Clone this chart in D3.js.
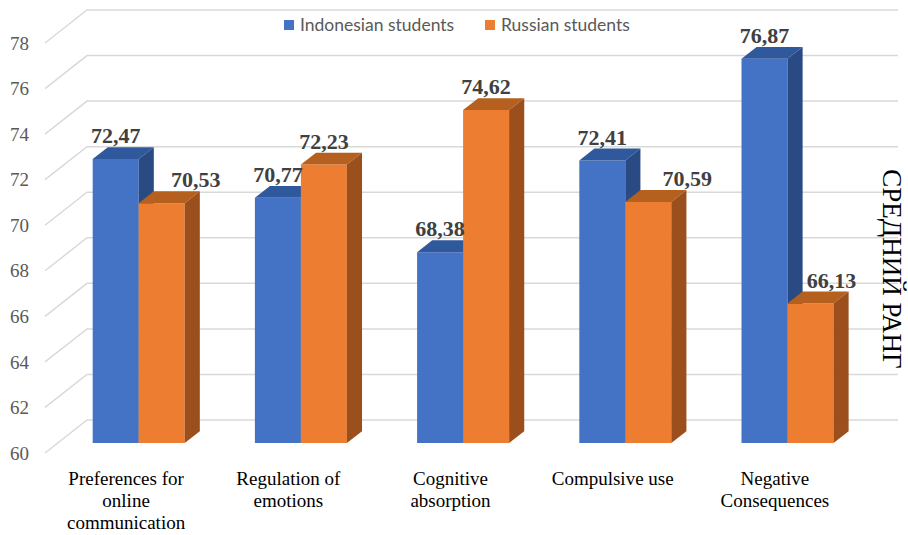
<!DOCTYPE html>
<html>
<head>
<meta charset="utf-8">
<script src="https://cdn.jsdelivr.net/npm/d3@7/dist/d3.min.js"></script>
<style>
  body { margin: 0; background: #fff; }
  svg { display: block; }
</style>
</head>
<body>
<div id="viz"></div>
<script>
// data
var categories = [
  ["Preferences for", "online", "communication"],
  ["Regulation of", "emotions"],
  ["Cognitive", "absorption"],
  ["Compulsive use"],
  ["Negative", "Consequences"]
];
var seriesNames = ["Indonesian students", "Russian students"];
var indonesian = [72.47, 70.77, 68.38, 72.41, 76.87];
var russian = [70.53, 72.23, 74.62, 70.59, 66.13];
var yTicks = [60, 62, 64, 66, 68, 70, 72, 74, 76, 78];
var axisTitle = "СРЕДНИЙ РАНГ";

var width = 908, height = 535;

var colors = [
  {front: "#4472C4", top: "#30589C", side: "#2A4A84"},
  {front: "#ED7D31", top: "#B5601F", side: "#9B4F1C"}
];

// 3d box of the plot: back wall is shifted by depthX / depthY
var depthX = 42, depthY = 33;
var barZ = 0.3, barDepth = 0.36; // bar position in the depth (0 = front, 1 = back)

var svg = d3.select("#viz").append("svg")
    .attr("width", width)
    .attr("height", height);

var catKeys = categories.map(function(d, i) { return i; });

var x = d3.scaleBand()
    .domain(catKeys)
    .range([45, 856]);

var xSub = d3.scaleBand()
    .domain([0, 1])
    .range([0, x.bandwidth()])
    .paddingOuter(0.763);

var y = d3.scaleLinear()
    .domain([60, 78])
    .range([453, 43]);

// project a point (front x, value, depth) to the screen
function pt(px, v, z) {
  return [px + z * depthX, y(v) - z * depthY];
}

function poly(points) {
  return "M" + points.map(function(p) { return p[0] + "," + p[1]; }).join("L") + "Z";
}

// grid: left wall diagonals and back wall lines
var grid = svg.append("g");
yTicks.forEach(function(t) {
  var a = pt(45, t, 0), b = pt(45, t, 1), c = pt(856, t, 1);
  grid.append("path")
    .attr("d", "M" + a + "L" + b + "L" + c)
    .attr("fill", "none")
    .attr("stroke", "#d9d9d9")
    .attr("stroke-width", 1.5);
});

svg.append("g").selectAll("text")
  .data(yTicks)
  .enter().append("text")
    .attr("x", 29)
    .attr("y", function(d) { return y(d); })
    .attr("dy", "0.35em")
    .attr("text-anchor", "end")
    .style("font-family", "'Liberation Serif', serif")
    .style("font-size", "19px")
    .attr("fill", "#595959")
    .text(function(d) { return d; });

// bars
var values = [indonesian, russian];
var bars = svg.append("g");
catKeys.forEach(function(ci) {
  [0, 1].forEach(function(si) {
    var v = values[si][ci];
    var x0 = x(ci) + xSub(si), x1 = x0 + xSub.bandwidth();
    var z0 = barZ, z1 = barZ + barDepth;
    var col = colors[si];
    // front
    bars.append("path")
      .attr("d", poly([pt(x0, 60, z0), pt(x1, 60, z0), pt(x1, v, z0), pt(x0, v, z0)]))
      .attr("fill", col.front);
    // top
    bars.append("path")
      .attr("d", poly([pt(x0, v, z0), pt(x1, v, z0), pt(x1, v, z1), pt(x0, v, z1)]))
      .attr("fill", col.top);
    // side
    bars.append("path")
      .attr("d", poly([pt(x1, 60, z0), pt(x1, 60, z1), pt(x1, v, z1), pt(x1, v, z0)]))
      .attr("fill", col.side);
  });
});

// value labels (some are moved right in the original so they clear the neighbour bar)
var labelShift = {"0-1": 34, "3-1": 39, "4-1": 21};
var labels = svg.append("g");
catKeys.forEach(function(ci) {
  [0, 1].forEach(function(si) {
    var v = values[si][ci];
    var cx = x(ci) + xSub(si) + xSub.bandwidth() / 2 + barZ * depthX + (labelShift[ci + "-" + si] || 0);
    var ty = pt(0, v, barZ + barDepth)[1] - 4;
    labels.append("text")
      .attr("x", cx)
      .attr("y", ty)
      .attr("text-anchor", "middle")
      .style("font-family", "'Liberation Serif', serif")
      .style("font-size", "22px")
      .style("font-weight", "bold")
      .attr("fill", "#404040")
      .text(v.toFixed(2).replace(".", ","));
  });
});

// category labels, centred on the front edge of each band
var cats = svg.append("g");
categories.forEach(function(lines, ci) {
  var t = cats.append("text")
    .attr("text-anchor", "middle")
    .style("font-family", "'Liberation Serif', serif")
    .style("font-size", "19px")
    .attr("fill", "#000");
  lines.forEach(function(line, li) {
    t.append("tspan")
      .attr("x", x(ci) + x.bandwidth() / 2)
      .attr("y", 485 + li * 22)
      .text(line);
  });
});

// legend
var legend = svg.append("g");
var legendX = [284, 485];
seriesNames.forEach(function(name, i) {
  legend.append("rect")
    .attr("x", legendX[i])
    .attr("y", 20)
    .attr("width", 10)
    .attr("height", 10)
    .attr("fill", colors[i].front);
  legend.append("text")
    .attr("x", legendX[i] + 16)
    .attr("y", 31)
    .style("font-family", "Lato, sans-serif")
    .style("font-size", "17.5px")
    .attr("fill", "#595959")
    .text(name);
});

// right axis title
svg.append("text")
  .attr("transform", "translate(883,269) rotate(90)")
  .attr("text-anchor", "middle")
  .style("font-family", "'Liberation Serif', serif")
  .style("font-size", "27px")
  .attr("fill", "#000")
  .text(axisTitle);
</script>
</body>
</html>
